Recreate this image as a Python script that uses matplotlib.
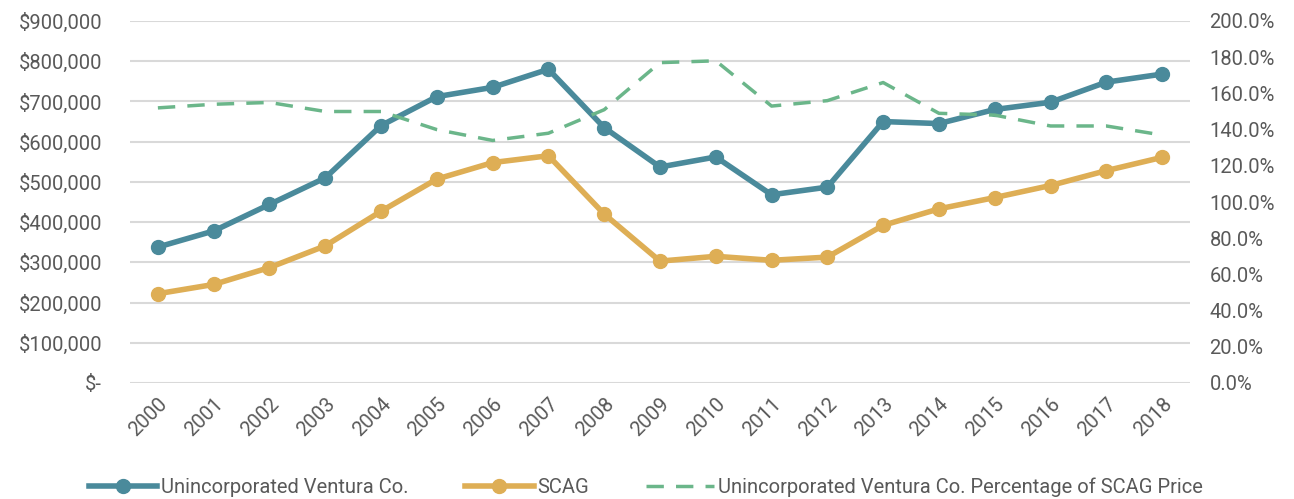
import numpy as np
import matplotlib.pyplot as plt
from matplotlib.ticker import FuncFormatter, MultipleLocator

# Data
years = [str(y) for y in range(2000, 2019)]
ventura = [338000, 378000, 444000, 510000, 640000, 712000, 735000, 780000, 635000,
           537000, 562000, 468000, 487000, 650000, 645000, 680000, 698000, 748000, 768000]
scag = [222000, 245000, 287000, 341000, 427000, 507000, 548000, 565000, 420000,
        303000, 315000, 305000, 313000, 392000, 433000, 461000, 491000, 528000, 561000]
pct_of_scag = [1.52, 1.54, 1.55, 1.50, 1.50, 1.40, 1.34, 1.38, 1.51,
               1.77, 1.78, 1.53, 1.56, 1.66, 1.49, 1.48, 1.42, 1.42, 1.37]

TEAL = "#4A8A9B"
GOLD = "#DEAE55"
GREEN = "#6BB68A"
TEXT = "#595959"
GRID = "#D9D9D9"
FS = 14.5

plt.rcParams['font.family'] = ['Roboto', 'DejaVu Sans']

fig = plt.figure(figsize=(12.94, 4.99), dpi=100)
ax = fig.add_axes([130 / 1294, 1 - 383 / 499, 1060 / 1294, 362 / 499])
ax2 = ax.twinx()

x = np.arange(len(years))

l1, = ax.plot(x, ventura, color=TEAL, linewidth=4, marker='o', markersize=10,
              label="Unincorporated Ventura Co.", zorder=3)
l2, = ax.plot(x, scag, color=GOLD, linewidth=4, marker='o', markersize=10,
              label="SCAG", zorder=3)
l3, = ax2.plot(x, pct_of_scag, color=GREEN, linewidth=2.5, linestyle=(0, (5, 3.5)),
               label="Unincorporated Ventura Co. Percentage of SCAG Price")

ax.set_xlim(-0.5, len(years) - 0.5)
ax.set_ylim(0, 900000)
ax2.set_ylim(0, 2.0)
ax.yaxis.set_major_locator(MultipleLocator(100000))
ax2.yaxis.set_major_locator(MultipleLocator(0.2))

def money(v, pos):
    if v == 0:
        return "$-"
    return "${:,.0f}".format(v)

ax.yaxis.set_major_formatter(FuncFormatter(money))
ax2.yaxis.set_major_formatter(FuncFormatter(lambda v, p: "{:.1f}%".format(v * 100)))

ax.set_xticks(x)
ax.set_xticklabels(years, rotation=45, ha='right', rotation_mode='anchor')

ax.grid(axis='y', color=GRID, linewidth=1.5)
ax.set_axisbelow(True)

for a in (ax, ax2):
    for s in a.spines.values():
        s.set_visible(False)
    a.tick_params(length=0, labelsize=FS, colors=TEXT)
ax.tick_params(axis='y', pad=20)
ax2.tick_params(axis='y', pad=14)
ax.tick_params(axis='x', pad=8)

fig.legend(handles=[l1, l2, l3], loc='center', ncol=3, frameon=False,
           fontsize=FS, labelcolor=TEXT, bbox_to_anchor=(646 / 1294, 1 - 487 / 499),
           handlelength=3.4, handletextpad=0.2, columnspacing=2.8)

fig.savefig("out.png", dpi=100)
